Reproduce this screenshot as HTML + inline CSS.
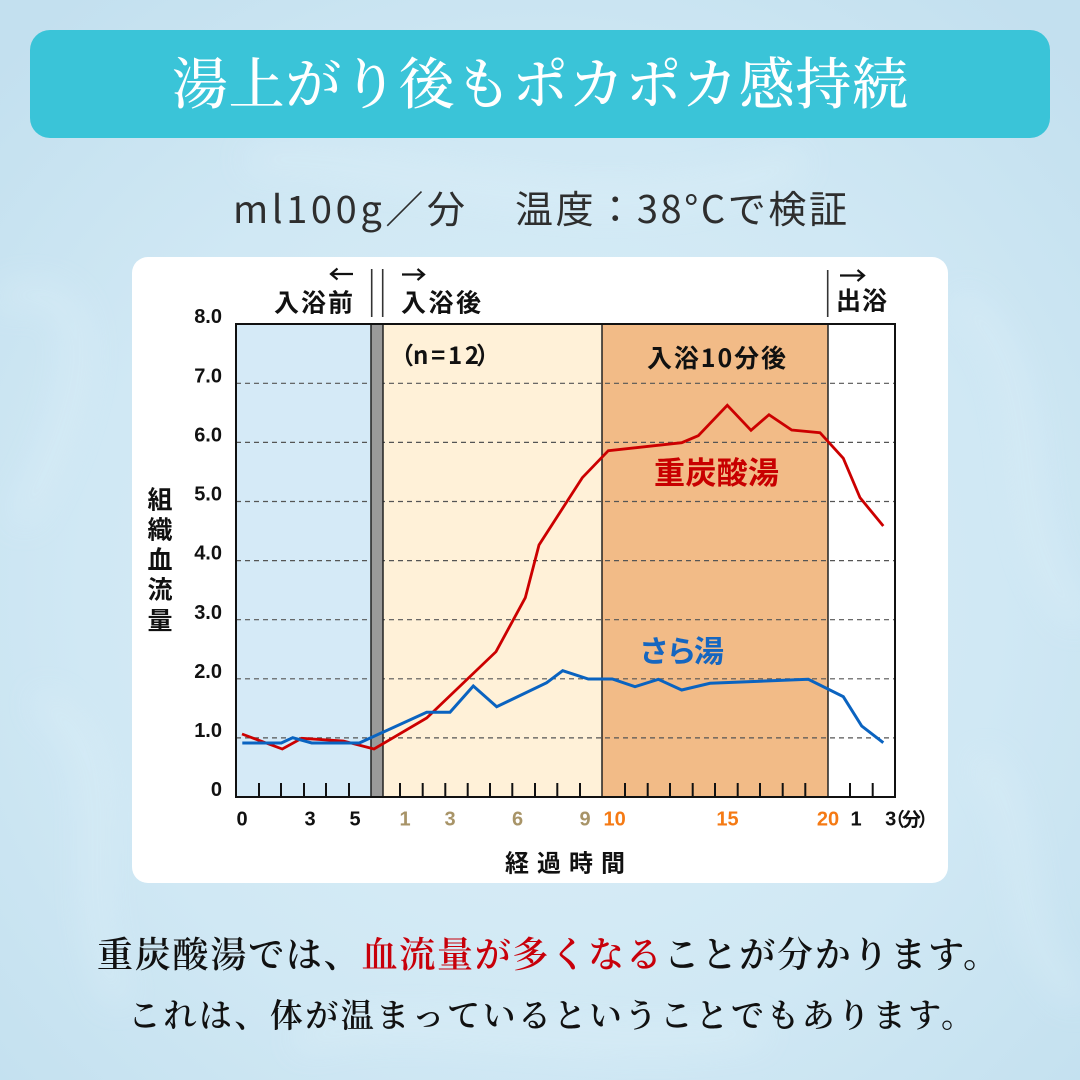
<!DOCTYPE html>
<html><head><meta charset="utf-8"><style>
html,body{margin:0;padding:0;width:1080px;height:1080px;overflow:hidden;background:#cfe7f4}
svg{display:block}
.sb{font-family:"Liberation Sans","Noto Sans CJK JP",sans-serif;font-weight:700}
.jb{font-family:"Noto Sans CJK JP","Liberation Sans",sans-serif;font-weight:700}
.jr{font-family:"Noto Sans CJK JP","Liberation Sans",sans-serif;font-weight:400}
.ser{font-family:"Noto Serif CJK JP","Noto Serif CJK SC","Liberation Serif",serif}
</style></head><body>
<svg width="1080" height="1080" viewBox="0 0 1080 1080" xmlns="http://www.w3.org/2000/svg">
<defs>
<radialGradient id="bg" cx="50%" cy="55%" r="70%">
<stop offset="0" stop-color="#dbeff8"/><stop offset="0.6" stop-color="#d0e8f4"/><stop offset="1" stop-color="#c3e0ef"/>
</radialGradient>
<filter id="bl" x="-20%" y="-20%" width="140%" height="140%"><feGaussianBlur stdDeviation="16"/></filter>
</defs>
<rect width="1080" height="1080" fill="url(#bg)"/>
<g filter="url(#bl)" fill="none" stroke="#e6f4fb" stroke-width="12" opacity="0.6">
<path d="M0 300 C120 260 80 420 20 520"/>
<path d="M40 700 C140 760 60 880 120 1000"/>
<path d="M960 300 C1060 380 990 520 1080 620"/>
<path d="M980 760 C1040 820 1000 940 1080 1000"/>
<path d="M300 1040 C420 1000 600 1060 760 1030"/>
<path d="M250 160 C400 150 600 250 800 160"/>
</g>
<!-- banner -->
<rect x="30" y="30" width="1020" height="108" rx="20" fill="#3ac4d8"/>
<text class="ser" x="172" y="104" font-size="56" font-weight="500" fill="#ffffff" textLength="736" lengthAdjust="spacing">湯上がり後もポカポカ感持続</text>
<!-- subtitle -->
<text class="jr" x="233" y="223" font-size="38" fill="#2e2e2e" textLength="232" lengthAdjust="spacing">ml100g／分</text>
<text class="jr" x="515" y="223" font-size="38" fill="#2e2e2e" textLength="332" lengthAdjust="spacing">温度：38°Cで検証</text>
<!-- card -->
<rect x="132" y="257" width="816" height="626" rx="16" fill="#ffffff"/>
<!-- regions -->
<rect x="236" y="324" width="135" height="473" fill="#d5eaf7"/>
<rect x="383" y="324" width="219" height="473" fill="#fff1d8"/>
<rect x="602" y="324" width="226" height="473" fill="#f2bb87"/>
<rect x="828" y="324" width="67" height="473" fill="#ffffff"/>
<!-- grid -->
<g stroke="#555" stroke-width="1.2" stroke-dasharray="5 4">
<line x1="236" y1="737.9" x2="895" y2="737.9"/>
<line x1="236" y1="678.8" x2="895" y2="678.8"/>
<line x1="236" y1="619.7" x2="895" y2="619.7"/>
<line x1="236" y1="560.6" x2="895" y2="560.6"/>
<line x1="236" y1="501.5" x2="895" y2="501.5"/>
<line x1="236" y1="442.4" x2="895" y2="442.4"/>
<line x1="236" y1="383.3" x2="895" y2="383.3"/>
</g>
<rect x="371" y="324" width="12" height="473" fill="#9a9a9a" stroke="#222" stroke-width="1.5"/>
<line x1="602" y1="324" x2="602" y2="797" stroke="#222" stroke-width="1.5"/>
<line x1="828" y1="324" x2="828" y2="797" stroke="#222" stroke-width="1.5"/>
<!-- ticks -->
<g stroke="#111" stroke-width="2">
<line x1="259" y1="783" x2="259" y2="797"/><line x1="281" y1="783" x2="281" y2="797"/><line x1="304" y1="783" x2="304" y2="797"/><line x1="326" y1="783" x2="326" y2="797"/><line x1="349" y1="783" x2="349" y2="797"/>
<line x1="400" y1="783" x2="400" y2="797"/><line x1="422.7" y1="783" x2="422.7" y2="797"/><line x1="445.3" y1="783" x2="445.3" y2="797"/><line x1="467.7" y1="783" x2="467.7" y2="797"/><line x1="490" y1="783" x2="490" y2="797"/><line x1="512.3" y1="783" x2="512.3" y2="797"/><line x1="535" y1="783" x2="535" y2="797"/><line x1="557.3" y1="783" x2="557.3" y2="797"/><line x1="580" y1="783" x2="580" y2="797"/>
<line x1="625" y1="783" x2="625" y2="797"/><line x1="647.7" y1="783" x2="647.7" y2="797"/><line x1="670" y1="783" x2="670" y2="797"/><line x1="692.7" y1="783" x2="692.7" y2="797"/><line x1="715" y1="783" x2="715" y2="797"/><line x1="737.7" y1="783" x2="737.7" y2="797"/><line x1="760" y1="783" x2="760" y2="797"/><line x1="782.7" y1="783" x2="782.7" y2="797"/><line x1="805.3" y1="783" x2="805.3" y2="797"/>
<line x1="850" y1="783" x2="850" y2="797"/><line x1="872.7" y1="783" x2="872.7" y2="797"/>
</g>
<rect x="236" y="324" width="659" height="473" fill="none" stroke="#111" stroke-width="2"/>
<!-- series -->
<polyline fill="none" stroke="#cc0000" stroke-width="2.8" points="242,734 282.3,749 301.7,738.3 343.3,741 374,749 426.7,718 496,651.7 525.3,597.7 539,545 582.3,477.7 608.3,450.7 681.7,442.7 698.3,435.7 727.3,405.3 751,430.3 769,414.7 791.7,430 820,432.7 843.3,458.3 860,497.7 883.3,526"/>
<polyline fill="none" stroke="#0a63c0" stroke-width="3" points="242.3,743 281.3,743 292.7,737.7 311.7,743 359.3,743 426.7,712.3 450,712.3 473.3,686 496.7,706.7 546.7,682.7 562.7,670.7 588.3,679 612.3,679 635,686.7 658.3,679.3 681.7,690 710,683.3 808.3,679.3 843.3,696.7 861.7,726 883.3,742.7"/>
<text class="jb" x="654" y="484" font-size="31" fill="#c80000" textLength="125" lengthAdjust="spacing">重炭酸湯</text>
<text class="jb" x="639" y="662" font-size="30" fill="#1566c0" textLength="85" lengthAdjust="spacing">さら湯</text>
<!-- y labels -->
<g class="sb" font-size="20" fill="#111" text-anchor="end">
<text x="222" y="323">8.0</text><text x="222" y="382.5">7.0</text><text x="222" y="441.5">6.0</text><text x="222" y="500.5">5.0</text><text x="222" y="559.5">4.0</text><text x="222" y="619">3.0</text><text x="222" y="678">2.0</text><text x="222" y="737">1.0</text><text x="222" y="796">0</text>
</g>
<g class="jb" font-size="25" fill="#111" text-anchor="middle">
<text x="160" y="508.5">組</text><text x="160" y="538.5">織</text><text x="160" y="568.5">血</text><text x="160" y="598.5">流</text><text x="160" y="629.5">量</text>
</g>
<!-- x labels -->
<g class="sb" font-size="20" text-anchor="middle">
<text x="242" y="825.5" fill="#111">0</text><text x="310" y="825.5" fill="#111">3</text><text x="355" y="825.5" fill="#111">5</text>
<text x="405" y="825.5" fill="#a89468">1</text><text x="450" y="825.5" fill="#a89468">3</text><text x="517.5" y="825.5" fill="#a89468">6</text><text x="585" y="825.5" fill="#a89468">9</text>
<text x="614.6" y="825.5" fill="#f57a14">10</text><text x="727.5" y="825.5" fill="#f57a14">15</text><text x="828" y="825.5" fill="#f57a14">20</text>
<text x="856" y="825.5" fill="#111">1</text><text x="890.7" y="825.5" fill="#111">3</text>
</g>
<g class="jb" font-size="19" fill="#111">
<text x="905" y="826" text-anchor="end">（</text><text x="902" y="826">分</text><text x="918" y="826">）</text>
</g>
<text class="jb" x="505" y="871.5" font-size="24" fill="#111" textLength="120" lengthAdjust="spacing">経過時間</text>
<!-- top labels -->
<g stroke="#111" stroke-width="2.2" fill="none">
<path d="M353 274 H331 M337.5 268.5 L331 274 L337.5 279.5"/>
<path d="M402 274.5 H424 M417.5 269 L424 274.5 L417.5 280"/>
<path d="M840 275.5 H864 M857.5 270 L864 275.5 L857.5 281"/>
</g>
<g stroke="#333" stroke-width="1.6">
<line x1="371.7" y1="269" x2="371.7" y2="317"/>
<line x1="382.7" y1="269" x2="382.7" y2="317"/>
<line x1="827.7" y1="270" x2="827.7" y2="317"/>
</g>
<g class="jb" font-size="25" fill="#111">
<text x="274" y="311.5" textLength="79" lengthAdjust="spacing">入浴前</text>
<text x="401" y="311.5" textLength="80" lengthAdjust="spacing">入浴後</text>
<text x="836" y="309.5" textLength="51" lengthAdjust="spacing">出浴</text>
</g>
<g class="jb" font-size="24" fill="#111">
<text x="414" y="364" text-anchor="end">（</text>
<text x="413" y="364" textLength="66" lengthAdjust="spacing">n=12</text>
<text x="476" y="364">）</text>
</g>
<text class="jb" x="647" y="367" font-size="25" fill="#111" textLength="139" lengthAdjust="spacing">入浴10分後</text>
<!-- bottom text -->
<text class="ser" x="97" y="967" font-size="36" font-weight="600" fill="#111" textLength="902" lengthAdjust="spacing">重炭酸湯では、<tspan fill="#c8000a">血流量が多くなる</tspan>ことが分かります。</text>
<text class="ser" x="128" y="1027" font-size="33" font-weight="600" fill="#111" textLength="846" lengthAdjust="spacing">これは、体が温まっているということでもあります。</text>
</svg>
</body></html>
